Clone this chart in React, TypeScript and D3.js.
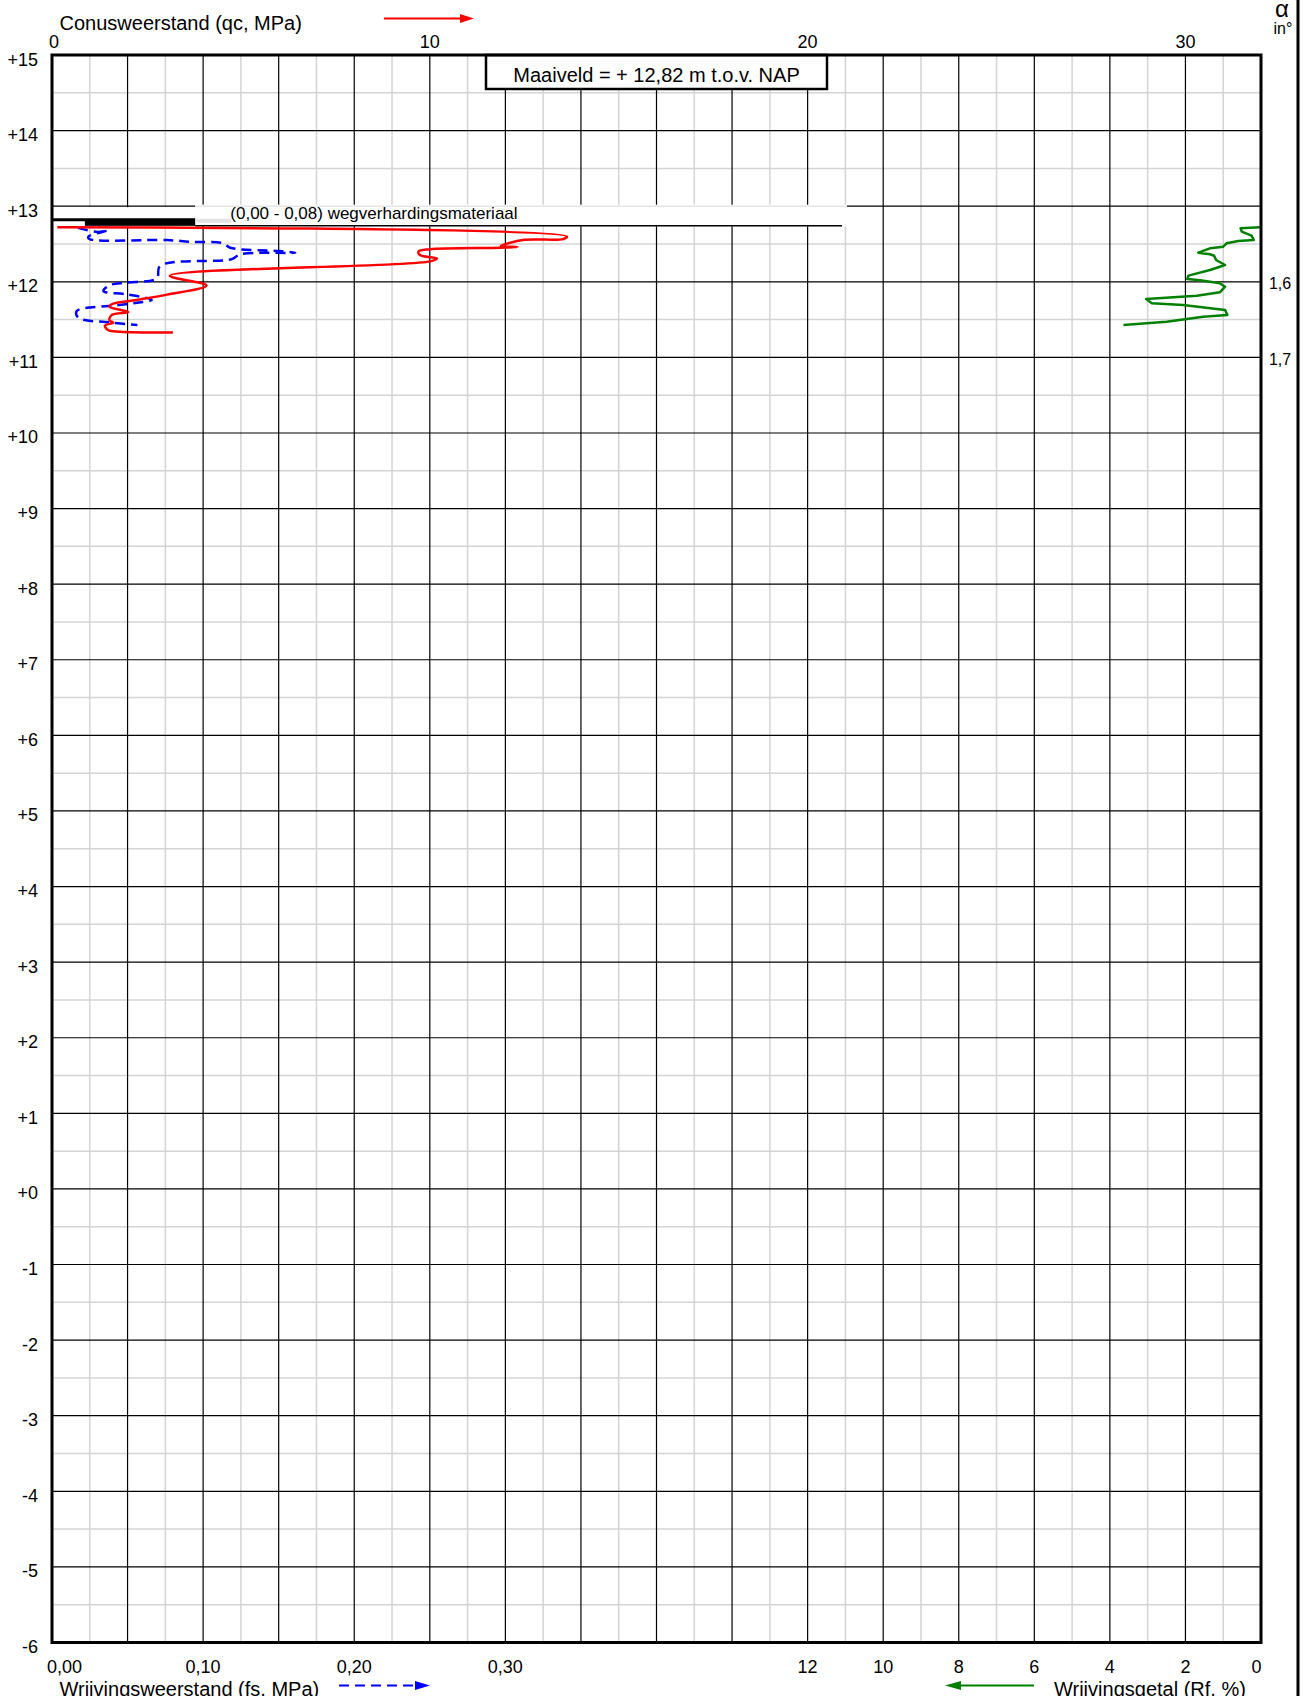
import React from "react";
import * as d3 from "d3";

// ---- data ----
const qcNap = [12.72, 12.6, 12.565, 12.555, 12.474, 12.46, 12.45, 12.43, 12.4, 12.35, 12.31, 12.27, 12.08, 11.95, 11.83, 11.76, 11.71, 11.67, 11.6, 11.56, 11.49, 11.46, 11.42, 11.36, 11.34, 11.33];
const qcValues = [0.14, 13.63, 13.53, 12.5, 11.88, 12.32, 11.86, 10.0, 9.7, 9.75, 10.19, 10.01, 3.12, 4.09, 3.04, 2.24, 1.62, 1.52, 2.02, 1.58, 1.52, 1.62, 1.4, 1.49, 1.8, 3.2];

const fsNap = [12.713, 12.66, 12.68, 12.596, 12.565, 12.552, 12.53, 12.508, 12.45, 12.406, 12.384, 12.363, 12.3, 12.21, 12.045, 11.99, 11.956, 11.877, 11.834, 11.76, 11.69, 11.613, 11.524, 11.463, 11.427];
const fsValues = [0.0172, 0.0305, 0.037, 0.024, 0.0247, 0.076, 0.0914, 0.1134, 0.1179, 0.151, 0.161, 0.1245, 0.119, 0.0715, 0.0693, 0.0495, 0.0384, 0.034, 0.0495, 0.066, 0.043, 0.0164, 0.0174, 0.0384, 0.0565];

const rfNap = [12.721, 12.708, 12.663, 12.61, 12.553, 12.54, 12.509, 12.464, 12.443, 12.385, 12.364, 12.345, 12.288, 12.222, 12.156, 12.081, 12.037, 12.02, 11.98, 11.935, 11.861, 11.816, 11.772, 11.716, 11.693, 11.627, 11.561, 11.538, 11.472, 11.429];
const rfValues = [0.03, 0.54, 0.51, 0.25, 0.19, 0.6, 0.91, 1.0, 1.35, 1.66, 1.35, 1.24, 1.19, 0.95, 1.35, 1.92, 1.95, 1.61, 1.09, 0.95, 1.09, 1.7, 3.04, 2.89, 2.06, 0.95, 0.89, 1.53, 2.5, 3.64];

const napTicks = [15, 14, 13, 12, 11, 10, 9, 8, 7, 6, 5, 4, 3, 2, 1, 0, -1, -2, -3, -4, -5, -6];
const qcTicks = [0, 10, 20, 30];
const fsTicks = [0, 0.1, 0.2, 0.3];
const rfTicks = [12, 10, 8, 6, 4, 2, 0];
const alphaTicks = [{ nap: 12, label: "1,6" }, { nap: 11, label: "1,7" }];

const maaiveldText = "Maaiveld = + 12,82 m t.o.v. NAP";
const layerText = "(0,00 - 0,08) wegverhardingsmateriaal";
const layerTop = 12.82;
const layerBottom = 12.74;

const FONT = "'Liberation Sans', Arial, Helvetica, sans-serif";

export default function App() {
  const W = 1303;
  const H = 1696;
  const left = 52;
  const right = 1261;
  const top = 55;
  const bottom = 1642.5;

  const y = d3.scaleLinear().domain([15, -6]).range([top, bottom]);
  const xQc = d3.scaleLinear().domain([0, 32]).range([left, right]);
  const xFs = d3.scaleLinear().domain([0, 0.8]).range([left, right]);
  const xRf = d3.scaleLinear().domain([32, 0]).range([left, right]);

  const curve = d3.curveCatmullRom.alpha(0.5);
  const qcLine = d3.line<number>().x((_, i) => xQc(qcValues[i])).y((d) => y(d)).curve(curve);
  const fsLine = d3.line<number>().x((_, i) => xFs(fsValues[i])).y((d) => y(d)).curve(curve);
  const rfLine = d3.line<number>().x((_, i) => xRf(rfValues[i])).y((d) => y(d)).curve(d3.curveLinear);

  const vLines = d3.range(1, 32);
  const hLines = d3.range(29, -12, -1).map((v) => v / 2);

  const fmtFs = (v: number) => v.toFixed(2).replace(".", ",");

  const yTop = y(layerTop);
  const yBot = y(layerBottom);

  return (
    <svg width={W} height={H} style={{ position: "absolute", left: 0, top: 0, background: "#fff" }} fontFamily={FONT}>
      <rect x={0} y={0} width={W} height={H} fill="#fff" />
      {/* light grid */}
      {vLines.filter((v) => v % 2 === 1).map((v) => (
        <line key={"vl" + v} x1={xQc(v)} x2={xQc(v)} y1={top} y2={bottom} stroke="#d4d4d4" strokeWidth={1.5} />
      ))}
      {hLines.filter((v) => !Number.isInteger(v)).map((v) => (
        <line key={"hl" + v} x1={left} x2={right} y1={y(v)} y2={y(v)} stroke="#d4d4d4" strokeWidth={1.5} />
      ))}
      {/* dark grid */}
      {vLines.filter((v) => v % 2 === 0).map((v) => (
        <line key={"vd" + v} x1={xQc(v)} x2={xQc(v)} y1={top} y2={bottom} stroke="#000" strokeWidth={1.2} />
      ))}
      {hLines.filter((v) => Number.isInteger(v) && v < 15 && v > -6).map((v) => (
        <line key={"hd" + v} x1={left} x2={right} y1={y(v)} y2={y(v)} stroke="#000" strokeWidth={1.2} />
      ))}

      {/* layer description */}
      <rect x={left} y={y(13) + 1} width={xQc(3.79) - left} height={yBot - y(13)} fill="#fff" />
      <rect x={xQc(3.79)} y={y(13) - 1.5} width={847 - xQc(3.79)} height={yBot - y(13) + 2} fill="#fff" />
      <line x1={xQc(3.79)} x2={847} y1={y(13)} y2={y(13)} stroke="#e6e6e6" strokeWidth={1.5} />
      <line x1={left} x2={xQc(3.79)} y1={yTop} y2={yTop} stroke="#000" strokeWidth={3} />
      <rect x={xQc(0.87)} y={yTop} width={xQc(3.79) - xQc(0.87)} height={yBot - yTop} fill="#000" />
      <line x1={xQc(3.79)} x2={xQc(4.75)} y1={yTop + 1} y2={yTop + 1} stroke="#e3e3e3" strokeWidth={4} />
      <line x1={xQc(3.79)} x2={842} y1={yBot} y2={yBot} stroke="#000" strokeWidth={1.5} />
      <text x={xQc(4.72)} y={yTop - 0.5} fontSize={17}>{layerText}</text>

      {/* maaiveld box */}
      <rect x={486} y={top} width={341} height={34} fill="#fff" stroke="#000" strokeWidth={2.5} />
      <text x={656.5} y={81.5} fontSize={20} textAnchor="middle">{maaiveldText}</text>

      {/* curves */}
      <path d={fsLine(fsNap) || ""} fill="none" stroke="#0000ff" strokeWidth={2.5} strokeDasharray="10,6" />
      <path d={qcLine(qcNap) || ""} fill="none" stroke="#ff0000" strokeWidth={2.5} />
      <path d={rfLine(rfNap) || ""} fill="none" stroke="#008000" strokeWidth={2.5} strokeLinejoin="round" />

      {/* frame */}
      <rect x={left} y={top} width={right - left} height={bottom - top} fill="none" stroke="#000" strokeWidth={3} />

      {/* y labels */}
      {napTicks.map((v) => (
        <text key={"ny" + v} x={38} y={y(v) + 10.5} fontSize={18} textAnchor="end">
          {v > 0 ? "+" + v : v === 0 ? "+0" : String(v)}
        </text>
      ))}

      {/* top qc axis */}
      <text x={59.5} y={30} fontSize={20}>Conusweerstand (qc, MPa)</text>
      <line x1={384} x2={462} y1={18.5} y2={18.5} stroke="#ff0000" strokeWidth={2} />
      <path d="M460,14 L474,18.5 L460,23 Z" fill="#ff0000" />
      {qcTicks.map((v) => (
        <text key={"qc" + v} x={xQc(v) + (v === 0 ? 2 : 0)} y={47.5} fontSize={18} textAnchor="middle">{v}</text>
      ))}

      {/* bottom fs axis */}
      {fsTicks.map((v) => (
        <text key={"fs" + v} x={xFs(v) + (v === 0 ? 12.5 : 0)} y={1673} fontSize={18} textAnchor="middle">{fmtFs(v)}</text>
      ))}
      <text x={59.5} y={1695.5} fontSize={20}>Wrijvingsweerstand (fs, MPa)</text>
      <line x1={339} x2={416} y1={1685.5} y2={1685.5} stroke="#0000ff" strokeWidth={2} strokeDasharray="10,6" />
      <path d="M415,1681 L430,1685.5 L415,1690 Z" fill="#0000ff" />

      {/* bottom rf axis */}
      {rfTicks.map((v) => (
        <text key={"rf" + v} x={xRf(v) - (v === 0 ? 4.5 : 0)} y={1673} fontSize={18} textAnchor="middle">{v}</text>
      ))}
      <line x1={960} x2={1034} y1={1685.5} y2={1685.5} stroke="#008000" strokeWidth={2} />
      <path d="M961,1681 L945,1685.5 L961,1690 Z" fill="#008000" />
      <text x={1054} y={1695.5} fontSize={20}>Wrijvingsgetal (Rf, %)</text>

      {/* alpha axis */}
      <line x1={1298} x2={1298} y1={0} y2={H} stroke="#000" strokeWidth={3} />
      <text x={1282} y={17} fontSize={24} textAnchor="middle">α</text>
      <text x={1283} y={34} fontSize={16} textAnchor="middle">in°</text>
      {alphaTicks.map((t) => (
        <text key={t.label} x={1280} y={y(t.nap) + 7.5} fontSize={16} textAnchor="middle">{t.label}</text>
      ))}
    </svg>
  );
}
